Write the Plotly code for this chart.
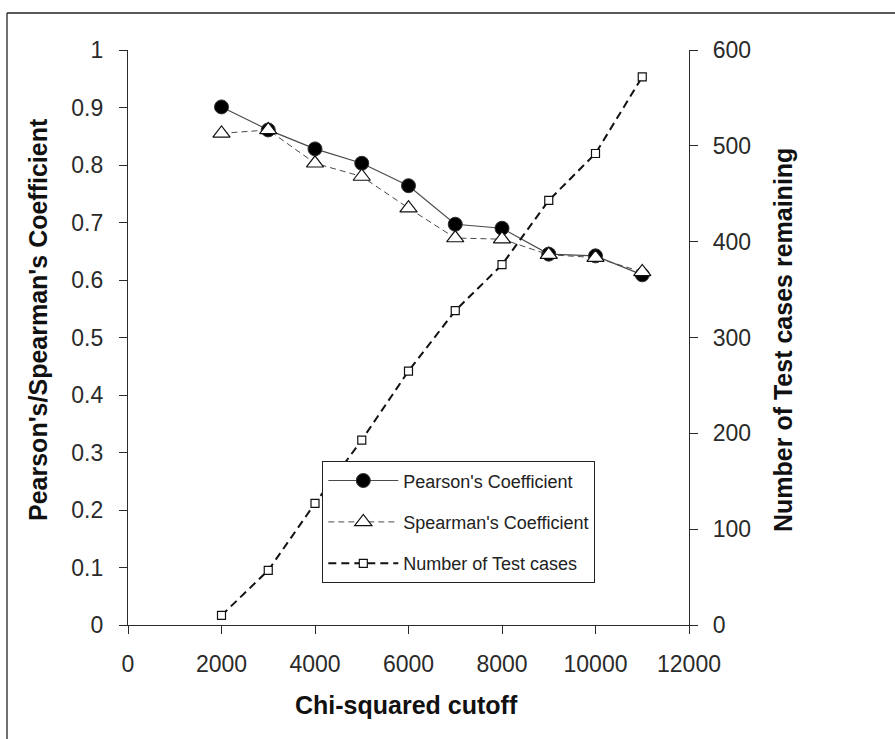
import plotly.graph_objects as go

cutoff = [2000, 3000, 4000, 5000, 6000, 7000, 8000, 9000, 10000, 11000]
pearson = [0.901, 0.861, 0.828, 0.803, 0.764, 0.697, 0.690, 0.645, 0.642, 0.609]
spearman = [0.855, 0.861, 0.803, 0.780, 0.725, 0.673, 0.671, 0.644, 0.639, 0.614]
n_cases = [10, 57, 127, 193, 265, 328, 376, 443, 492, 572]

x_ticks = [0, 2000, 4000, 6000, 8000, 10000, 12000]

W, H = 895, 739
L, R, T, B = 128, 689, 50, 625  # plot area in px


def px(x):
    return (x - L) / (R - L)


def py(y):
    return (B - y) / (B - T)


FONT = "Liberation Sans, Arial, sans-serif"
AX = "#2a2a2a"

fig = go.Figure()
fig.add_trace(go.Scatter(
    x=cutoff, y=pearson, name="Pearson's Coefficient", mode="lines+markers",
    line=dict(color="#4a4a4a", width=1.2),
    marker=dict(symbol="circle", size=14, color="#000000", line=dict(color="#333", width=1)),
    legendgroup="a",
))
fig.add_trace(go.Scatter(
    x=cutoff, y=spearman, name="Spearman's Coefficient", mode="lines+markers",
    line=dict(color="#4a4a4a", width=1, dash="6px,4px"),
    marker=dict(symbol="triangle-up", size=15, color="#ffffff", line=dict(color="#111", width=1.2)),
    legendgroup="b",
))
fig.add_trace(go.Scatter(
    x=cutoff, y=n_cases, name="Number of Test cases", mode="lines+markers", yaxis="y2",
    line=dict(color="#111111", width=2, dash="8px,5px"),
    marker=dict(symbol="square", size=8, color="#ffffff", line=dict(color="#111", width=1.2)),
    legendgroup="c",
))

fig.update_layout(
    width=W, height=H,
    margin=dict(l=L, r=W - R, t=T, b=H - B, pad=0),
    paper_bgcolor="white", plot_bgcolor="white",
    font=dict(family=FONT, size=23, color="#2a2a2a"),
    showlegend=True,
    legend=dict(
        x=px(322), y=py(461), xanchor="left", yanchor="top",
        bordercolor="#222", borderwidth=1.3, bgcolor="white",
        font=dict(size=18, family=FONT, color="#222"),
        tracegroupgap=15, itemwidth=70,
    ),
    xaxis=dict(
        range=[0, 12000], tickvals=x_ticks, ticktext=[str(v) for v in x_ticks],
        showgrid=False, zeroline=False, showline=True, linecolor=AX, linewidth=1.3,
        ticks="outside", ticklen=8, tickwidth=1.3, tickcolor=AX,
        ticklabelstandoff=10,
    ),
    yaxis=dict(
        range=[0, 1], dtick=0.1, tick0=0,
        showgrid=False, zeroline=False, showline=True, linecolor=AX, linewidth=1.3,
        ticks="outside", ticklen=8, tickwidth=1.3, tickcolor=AX,
        ticklabelstandoff=11,
    ),
    yaxis2=dict(
        range=[0, 600], dtick=100, tick0=0, overlaying="y", side="right", anchor="x",
        showgrid=False, zeroline=False, showline=True, linecolor=AX, linewidth=1.3,
        ticks="outside", ticklen=8, tickwidth=1.3, tickcolor=AX,
        ticklabelstandoff=10,
    ),
    yaxis3=dict(
        range=[0, 600], dtick=100, tick0=0, overlaying="y", side="right", anchor="x",
        showgrid=False, zeroline=False, showline=False,
        ticks="inside", ticklen=8, tickwidth=1.3, tickcolor=AX, showticklabels=False,
    ),
)

fig.add_annotation(text="<b>Pearson's/Spearman's Coefficient</b>", xref="paper", yref="paper",
                   x=px(38), y=py(320), xanchor="center", yanchor="middle",
                   textangle=-90, showarrow=False,
                   font=dict(size=25, family=FONT, color="#111"))
fig.add_annotation(text="<b>Number of Test cases remaining</b>", xref="paper", yref="paper",
                   x=px(783), y=py(340), xanchor="center", yanchor="middle",
                   textangle=-90, showarrow=False,
                   font=dict(size=25, family=FONT, color="#111"))
fig.add_annotation(text="<b>Chi-squared cutoff</b>", xref="paper", yref="paper",
                   x=px(406), y=py(705), xanchor="center", yanchor="middle", showarrow=False,
                   font=dict(size=25, family=FONT, color="#111"))

# outer frame (left and top edges visible)
fig.add_shape(type="line", xref="paper", yref="paper", x0=px(7), x1=px(7), y0=py(13), y1=py(760),
              line=dict(color="#222", width=1.3))
fig.add_shape(type="line", xref="paper", yref="paper", x0=px(7), x1=px(920), y0=py(13), y1=py(13),
              line=dict(color="#222", width=1.3))

fig.write_html("out.html")
